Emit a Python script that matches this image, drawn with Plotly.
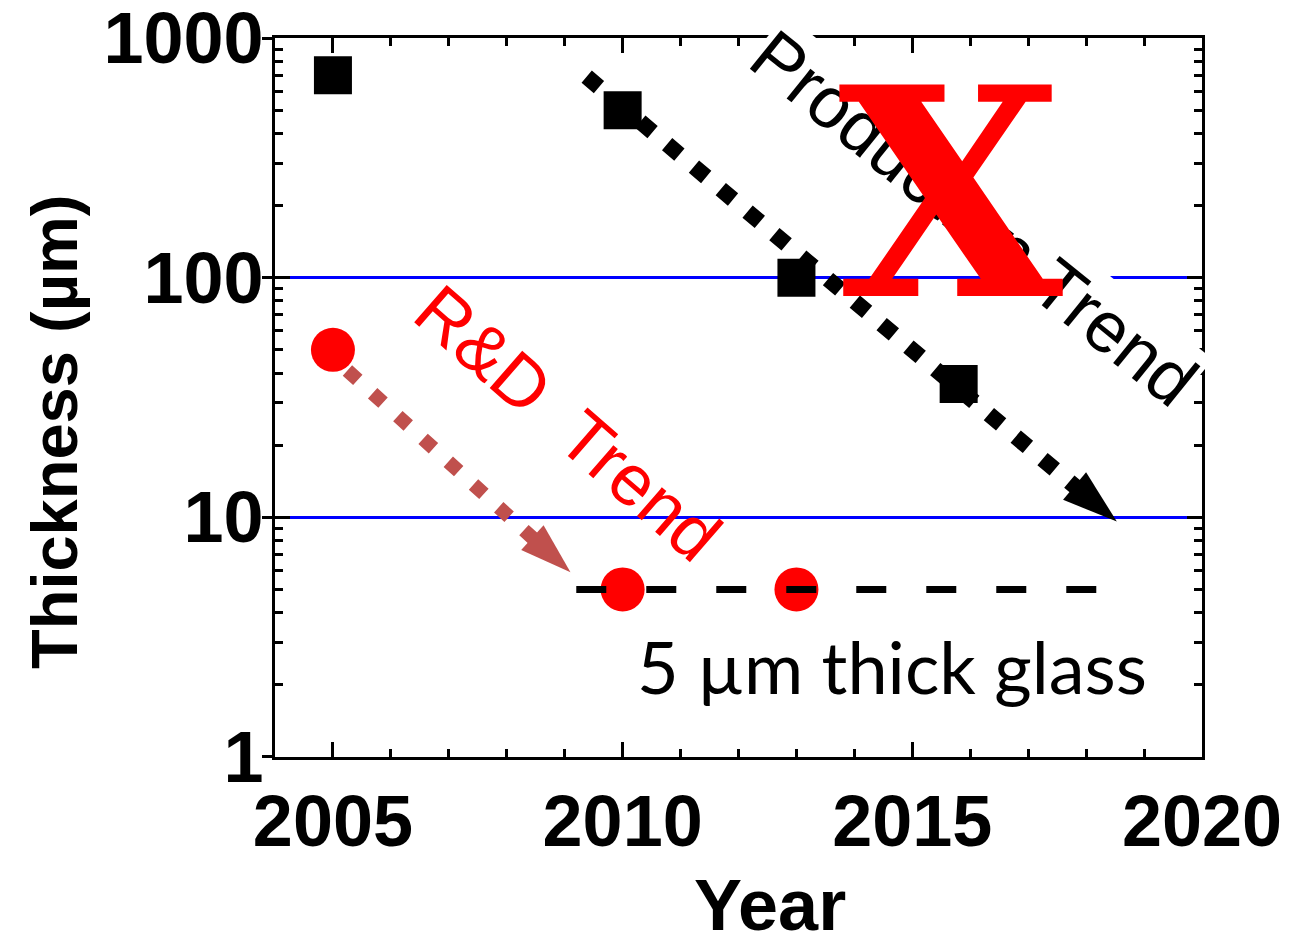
import plotly.graph_objects as go

# Measured glass thickness by year
years_production = [2005, 2010, 2013, 2015.8]
thickness_production = [700, 500, 100, 36]
years_rd = [2005, 2010, 2013]
thickness_rd = [50, 5, 5]

# 5 um reference level
glass_years = [2009.2, 2018.25]
glass_thickness = [5, 5]

# Trend arrows (start, tip)
production_trend_years = [2009.38, 2018.53]
production_trend_thickness = [690, 9.6]
rd_trend_years = [2005.25, 2009.1]
rd_trend_thickness = [41, 5.9]

# Axis ticks
x_ticks = [2005, 2010, 2015, 2020]
x_minor = list(range(2004, 2021))
y_ticks = [1, 10, 100, 1000]
y_tick_text = ["1", "10", "100", "1000"]
y_minor = [m * 10 ** e for e in range(3) for m in range(2, 10)]

W, H = 1296, 947
L, R, T, B = 275, 94, 38, 190


def px(x):
    return (x - L) / (W - L - R)


def py(y):
    return (H - B - y) / (H - T - B)


BLACK = "#000000"
RED = "#FF0000"
ARROW_RED = "#C0504D"
SANS = "Liberation Sans, Arial, sans-serif"
Y_RANGE = [-0.0005, 3.0005]

fig = go.Figure()

fig.add_trace(go.Scatter(
    x=production_trend_years, y=production_trend_thickness,
    mode="lines+markers",
    line=dict(color=BLACK, width=16, dash="16px,19px"),
    marker=dict(symbol=["circle", "arrow"], size=[0, 58], color=BLACK,
                opacity=1, angleref="previous", line=dict(width=0)),
    hoverinfo="skip", showlegend=False,
))
fig.add_trace(go.Scatter(
    x=rd_trend_years, y=rd_trend_thickness,
    mode="lines+markers",
    line=dict(color=ARROW_RED, width=14, dash="14px,20px"),
    marker=dict(symbol=["circle", "arrow"], size=[0, 54], color=ARROW_RED,
                opacity=1, angleref="previous", line=dict(width=0)),
    hoverinfo="skip", showlegend=False,
))
fig.add_trace(go.Scatter(
    x=years_production, y=thickness_production, mode="markers",
    marker=dict(symbol="square", size=38, color=BLACK, line=dict(width=0)),
    showlegend=False,
))
fig.add_trace(go.Scatter(
    x=years_rd, y=thickness_rd, mode="markers",
    marker=dict(symbol="circle", size=44, color=RED, line=dict(width=0)),
    showlegend=False,
))
fig.add_trace(go.Scatter(
    x=glass_years, y=glass_thickness, mode="lines", yaxis="y2",
    line=dict(color=BLACK, width=7, dash="30px,40px"),
    showlegend=False,
))

tick_font = dict(family=SANS, size=72, color=BLACK, weight="bold")

fig.update_layout(
    width=W, height=H,
    margin=dict(l=L, r=R, t=T, b=B, autoexpand=False),
    paper_bgcolor="white", plot_bgcolor="white",
    xaxis=dict(
        range=[2004, 2020], tickmode="array", tickvals=x_ticks,
        ticks="inside", ticklen=15, tickwidth=3, tickcolor=BLACK,
        showline=True, linewidth=3, linecolor=BLACK, mirror="ticks",
        showgrid=False, zeroline=False, tickfont=tick_font,
        ticklabeloverflow="allow", automargin=False,
        minor=dict(tickmode="array", tickvals=x_minor, ticks="inside",
                   ticklen=8, tickwidth=3, tickcolor=BLACK, showgrid=False),
    ),
    yaxis=dict(
        type="log", range=Y_RANGE, tickmode="array",
        tickvals=y_ticks, ticktext=y_tick_text,
        ticks="inside", ticklen=15, tickwidth=3, tickcolor=BLACK,
        showline=True, linewidth=3, linecolor=BLACK, mirror="ticks",
        showgrid=True, gridcolor="#0000FF", gridwidth=3,
        zeroline=False, tickfont=tick_font, ticklabelstandoff=-6,
        ticklabeloverflow="allow", automargin=False,
        minor=dict(tickmode="array", tickvals=y_minor, ticks="inside",
                   ticklen=8, tickwidth=3, tickcolor=BLACK, showgrid=False),
    ),
    yaxis2=dict(
        type="log", range=Y_RANGE, overlaying="y", side="left", anchor="x",
        tickmode="array", tickvals=y_ticks, automargin=False,
        ticks="outside", ticklen=12, tickwidth=3, tickcolor=BLACK,
        showticklabels=False, showgrid=False, showline=False, zeroline=False,
    ),
)

annotations = [
    dict(text="Thickness (µm)", x=px(54), y=py(432), textangle=-90,
         yanchor="middle",
         font=dict(family=SANS, size=65, color=BLACK, weight="bold")),
    dict(text="Year", x=px(770), y=py(947), yanchor="bottom",
         font=dict(family=SANS, size=72, color=BLACK, weight="bold")),
    dict(text="Production Trend", x=px(974), y=py(218), textangle=39,
         yanchor="middle", bgcolor="white", borderpad=0,
         font=dict(family=SANS, size=72, color=BLACK)),
    dict(text="R&amp;D\u00a0 Trend", x=px(568), y=py(423), textangle=41,
         yanchor="middle",
         font=dict(family=SANS, size=72, color=RED)),
    dict(text="5 µm thick glass", x=px(892), y=py(666), yanchor="middle",
         font=dict(family="Lato, sans-serif", size=72, color=BLACK)),
    dict(text="X", x=px(951), y=py(194), yanchor="middle",
         font=dict(family="DejaVu Serif, serif", size=290, color=RED, weight="bold")),
]
for a in annotations:
    a.update(xref="paper", yref="paper", showarrow=False, xanchor="center")
fig.update_layout(annotations=annotations)

fig.write_html("out.html")
